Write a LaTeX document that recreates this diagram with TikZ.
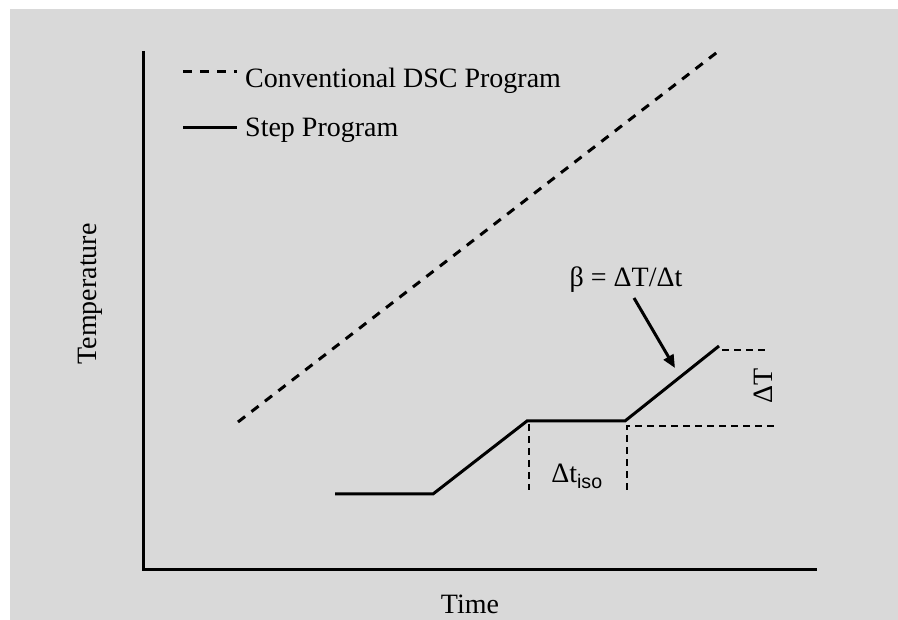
\documentclass[tikz,border=0pt]{standalone}
\usepackage{fontspec}
\setmainfont{Liberation Serif}
\setsansfont{Liberation Sans}
\usetikzlibrary{arrows.meta}
\definecolor{bggray}{RGB}{217,217,217}

\begin{document}
\begin{tikzpicture}[x=1pt,y=-1pt,
	axis/.style={line width=3pt},
	conv/.style={line width=3pt,dash pattern=on 9pt off 8pt},
	stepline/.style={line width=3pt,line join=miter},
	guide/.style={line width=1.4pt,dash pattern=on 7pt off 5pt},
	lbl/.style={font=\fontsize{28}{32}\selectfont,inner sep=0pt}]
		\useasboundingbox (0,0) rectangle (898,620);
		\fill[bggray] (10,9) rectangle (898,620);
		%ejes
		\coordinate (top) at (143,51);
		\coordinate (orig) at (143,569);
		\coordinate (right) at (817,569);
		\draw[axis] (top) -- (orig) -- (right);
		\node[lbl,rotate=90] (temp) at (90,294) {Temperature};
		\node[lbl,anchor=base] (time) at (470,613) {Time};
		%leyenda
		\coordinate (la) at (183,72);
		\coordinate (lb) at (237,72);
		\coordinate (lc) at (183,128);
		\coordinate (ld) at (237,128);
		\draw[conv] (la) -- (lb);
		\draw[stepline] (lc) -- (ld);
		\node[lbl,anchor=base west] (convtxt) at (245,88) {Conventional DSC Program};
		\node[lbl,anchor=base west] (steptxt) at (245,137) {Step Program};
		%programa convencional
		\coordinate (c0) at (238,422);
		\coordinate (c1) at (720,50);
		\draw[conv] (c0) -- (c1);
		%programa escalonado
		\coordinate (s0) at (335,494);
		\coordinate (s1) at (433,494);
		\coordinate (s2) at (527,421);
		\coordinate (s3) at (625,421);
		\coordinate (s4) at (719,346);
		\draw[stepline] (s0) -- (s1) -- (s2) -- (s3) -- (s4);
		%lineas auxiliares
		\coordinate (g1) at (529,424);
		\coordinate (g2) at (529,490);
		\coordinate (g3) at (627,426);
		\coordinate (g4) at (627,490);
		\coordinate (g5) at (777,426);
		\coordinate (g6) at (722,350);
		\coordinate (g7) at (767,350);
		\draw[guide] (g1) -- (g2);
		\draw[guide] (g4) -- (g3) -- (g5);
		\draw[guide] (g6) -- (g7);
		\node[lbl,anchor=base] (dtiso) at (577,483) {Δt\textsubscript{\sffamily iso}};
		\node[lbl,rotate=90] (dT) at (763,386) {ΔT};
		%pendiente
		\node[lbl,anchor=base] (beta) at (626,287) {β = ΔT/Δt};
		\coordinate (arrs) at (634,298);
		\coordinate (arre) at (675,368);
		\draw[line width=3pt,-{Triangle[length=13pt,width=11pt]}] (arrs) -- (arre);
	\end{tikzpicture}
\end{document}
